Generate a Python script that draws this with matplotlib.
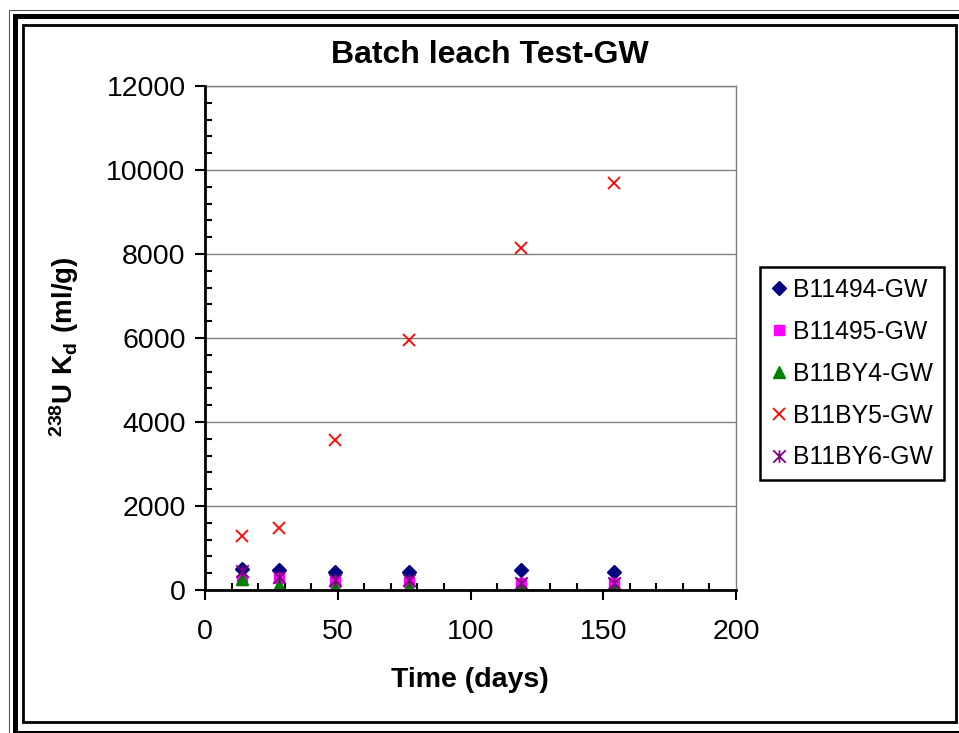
import matplotlib
matplotlib.use("Agg")
import matplotlib.pyplot as plt
from matplotlib.path import Path
from matplotlib.patches import Rectangle
from matplotlib.ticker import MultipleLocator

plt.rcParams["font.family"] = ["Liberation Sans", "DejaVu Sans"]
plt.rcParams["mathtext.fontset"] = "custom"
plt.rcParams["mathtext.rm"] = "Liberation Sans:bold"
plt.rcParams["mathtext.bf"] = "Liberation Sans:bold"

# data
days = [14, 28, 49, 77, 119, 154]
b11494 = [490, 470, 430, 430, 480, 430]
b11495 = [240, 280, 200, 200, 160, 160]
b11by4 = [260, 120, 80, 60, 40, 40]
b11by5 = [1290, 1480, 3580, 5950, 8150, 9680]
b11by6 = [450, 310, 230, 230, 170, 170]

names = ["B11494-GW", "B11495-GW", "B11BY4-GW", "B11BY5-GW", "B11BY6-GW"]
series = [b11494, b11495, b11by4, b11by5, b11by6]

# Excel-style star: x plus a vertical stroke
star = Path([(0, -1), (0, 1), (-1, -1), (1, 1), (-1, 1), (1, -1)],
            [Path.MOVETO, Path.LINETO, Path.MOVETO, Path.LINETO, Path.MOVETO, Path.LINETO])
styles = [
    dict(marker="D", color="#000080", ms=7),
    dict(marker="s", color="#FF00FF", ms=7),
    dict(marker="^", color="#008000", ms=8),
    dict(marker="x", color="#FF0000", ms=9, mew=1.3),
    dict(marker=star, color="#800080", ms=9, mew=1.3),
]

W, H = 959, 733
fig = plt.figure(figsize=(W / 100, H / 100), dpi=100)


def fx(x):
    return x / W


def fy(y):
    return 1 - y / H


ax = fig.add_axes([fx(205), fy(590), (736 - 205) / W, (590 - 86) / H])

for vals, name, st in zip(series, names, styles):
    ax.plot(days, vals, linestyle="none", label=name, zorder=3, **st)

ax.set_xlim(0, 200)
ax.set_ylim(0, 12000)
ax.xaxis.set_major_locator(MultipleLocator(50))
ax.xaxis.set_minor_locator(MultipleLocator(10))
ax.yaxis.set_major_locator(MultipleLocator(2000))
ax.yaxis.set_minor_locator(MultipleLocator(400))
ax.tick_params(which="major", direction="out", length=7, width=1.5, labelsize=20.5)
ax.tick_params(axis="x", which="major", pad=14)
ax.tick_params(axis="y", which="major", pad=7)
ax.tick_params(which="minor", direction="in", length=5, width=1.5)
ax.grid(axis="y", which="major", color="#808080", linewidth=1)
ax.set_axisbelow(True)
for s in ["left", "bottom"]:
    ax.spines[s].set_linewidth(2)
    ax.spines[s].set_zorder(4)
for s in ["top", "right"]:
    ax.spines[s].set_color("#808080")
    ax.spines[s].set_linewidth(1)

fig.text(fx(490), fy(55), "Batch leach Test-GW", ha="center", va="center",
         fontsize=23, fontweight="bold")
fig.text(fx(470), fy(680), "Time (days)", ha="center", va="center",
         fontsize=20.5, fontweight="bold")
fig.text(fx(64), fy(347), r"$\mathbf{^{238}U\ K_d\ (ml/g)}$", ha="center", va="center",
         rotation=90, fontsize=20)

leg = fig.legend(loc="upper left", bbox_to_anchor=(fx(760), fy(267)), fontsize=17.8,
                 frameon=True, fancybox=False, edgecolor="black", framealpha=1,
                 handlelength=0.6, handletextpad=0.3, labelspacing=0.72, borderpad=0.45,
                 borderaxespad=0)
leg.get_frame().set_linewidth(1.8)

# chart-area double border
fig.patches.append(Rectangle((fx(9), fy(740)), fx(970 - 9), (740 - 10) / H, fill=False,
                             edgecolor="#555555", linewidth=0.8, transform=fig.transFigure))
fig.patches.append(Rectangle((fx(15), fy(733)), fx(964 - 15), (733 - 16) / H, fill=False,
                             edgecolor="black", linewidth=3.6, transform=fig.transFigure))
fig.patches.append(Rectangle((fx(23), fy(722)), fx(956 - 23), (722 - 25) / H, fill=False,
                             edgecolor="black", linewidth=2, transform=fig.transFigure))

fig.savefig("out.png", dpi=100)
plt.close()
